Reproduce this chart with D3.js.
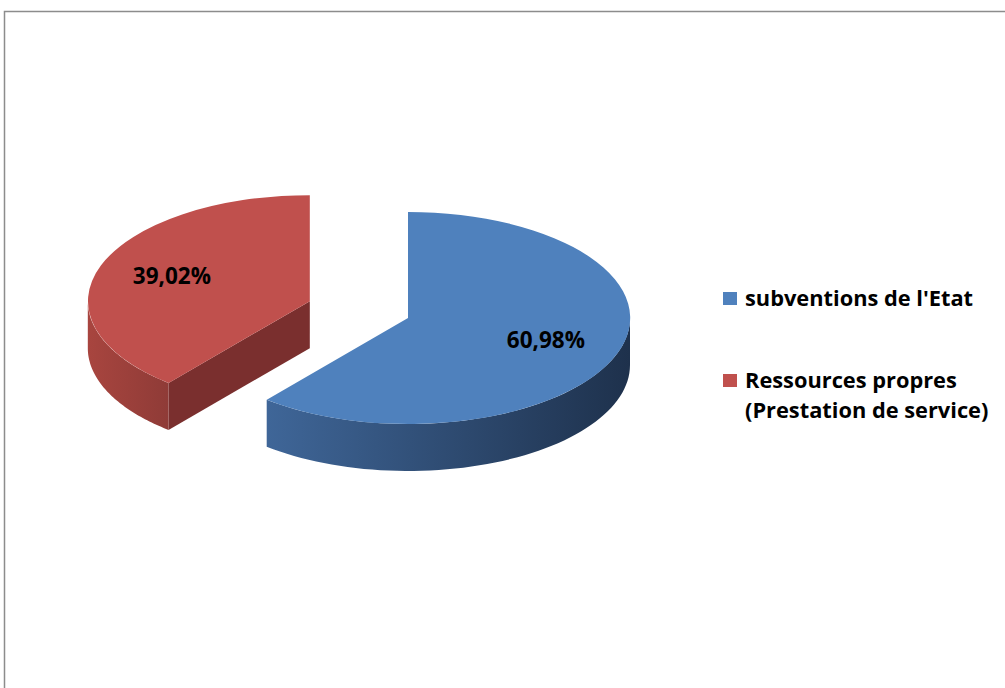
<!DOCTYPE html>
<html>
<head>
<meta charset="utf-8">
<script src="https://d3js.org/d3.v7.min.js"></script>
<style>
  body { margin: 0; background: #fff; }
  text { font-family: "Open Sans", "Noto Sans", sans-serif; font-weight: bold; }
</style>
</head>
<body>
<svg width="1005" height="688"></svg>
<script>
  // chart values
  const LABELS = ["subventions de l'Etat", 'Ressources propres (Prestation de service)'];
  const LEGEND_LINES = [["subventions de l'Etat"], ['Ressources propres', '(Prestation de service)']];
  const VALUES = [60.98, 39.02];
  const PCT_LABELS = ['60,98%', '39,02%'];
  const EXPLODE = [0, 0.47];

  const TOP = ['#4f81bd', '#c0504d'];
  const SIDE_A = ['#3f6698', '#a8453f'];
  const SIDE_B = ['#1e314c', '#8f3b37'];
  const CUT = ['#27406a', '#7a2f2e'];

  const svg = d3.select('svg');
  const cx = 408, cy = 318, rx = 222, ry = 106, depth = 47;

  // frame
  svg.append('rect').attr('x', 4.5).attr('y', 11.5).attr('width', 1020).attr('height', 700)
    .attr('fill', 'none').attr('stroke', '#8c8c8c').attr('stroke-width', 1.5);

  const defs = svg.append('defs');

  const pie = d3.pie().sort(null).value(d => d);
  const arcs = pie(VALUES);

  function pt(a, ox, oy, dz) {
    return [ox + rx * Math.sin(a), oy - ry * Math.cos(a) + (dz || 0)];
  }

  function sidePath(a0, a1, ox, oy) {
    const lo = Math.max(a0, Math.PI / 2), hi = Math.min(a1, 3 * Math.PI / 2);
    if (hi <= lo) return null;
    const n = 60, p = d3.path();
    for (let i = 0; i <= n; i++) {
      const q = pt(lo + (hi - lo) * i / n, ox, oy);
      i === 0 ? p.moveTo(q[0], q[1]) : p.lineTo(q[0], q[1]);
    }
    for (let i = n; i >= 0; i--) {
      const q = pt(lo + (hi - lo) * i / n, ox, oy, depth);
      p.lineTo(q[0], q[1]);
    }
    p.closePath();
    return { d: p.toString(), x0: pt(lo, ox, oy)[0], x1: pt(hi, ox, oy)[0] };
  }

  const unitArc = d3.arc().innerRadius(0).outerRadius(1);

  // back slice first (red), then blue
  [1, 0].forEach(i => {
    const a = arcs[i];
    const mid = (a.startAngle + a.endAngle) / 2;
    const ox = cx + EXPLODE[i] * rx * Math.sin(mid);
    const oy = cy - EXPLODE[i] * ry * Math.cos(mid);
    const g = svg.append('g');

    // cut face at start angle, if it faces the viewer
    const faceNormal = a.startAngle - Math.PI / 2;
    if (-Math.cos(faceNormal) > 0.05) {
      const e = pt(a.startAngle, ox, oy);
      g.append('path')
        .attr('d', `M${ox},${oy}L${e[0]},${e[1]}L${e[0]},${e[1] + depth}L${ox},${oy + depth}Z`)
        .attr('fill', CUT[i]);
    }

    // outer curved side
    const s = sidePath(a.startAngle, a.endAngle, ox, oy);
    if (s) {
      const grad = defs.append('linearGradient').attr('id', 'side' + i)
        .attr('gradientUnits', 'userSpaceOnUse')
        .attr('x1', Math.min(s.x0, s.x1)).attr('x2', Math.max(s.x0, s.x1))
        .attr('y1', 0).attr('y2', 0);
      grad.append('stop').attr('offset', 0).attr('stop-color', SIDE_A[i]);
      grad.append('stop').attr('offset', 1).attr('stop-color', SIDE_B[i]);
      g.append('path').attr('d', s.d).attr('fill', `url(#side${i})`);
    }

    // top face
    g.append('path')
      .attr('d', unitArc(a))
      .attr('transform', `translate(${ox},${oy}) scale(${rx},${ry})`)
      .attr('fill', TOP[i]);

    // percentage label
    const lp = pt(mid, ox, oy);
    const f = 0.66;
    g.append('text')
      .attr('x', ox + (lp[0] - ox) * f)
      .attr('y', oy + (lp[1] - oy) * f)
      .attr('text-anchor', 'middle')
      .attr('dominant-baseline', 'middle')
      .attr('font-size', 22.5)
      .attr('fill', '#000')
      .text(PCT_LABELS[i]);
  });

  // legend
  const lg = svg.append('g').attr('transform', 'translate(723,292)');
  const legendY = [0, 82];
  LEGEND_LINES.forEach((lines, i) => {
    lg.append('rect').attr('x', 0).attr('y', legendY[i]).attr('width', 14).attr('height', 13)
      .attr('fill', TOP[i]);
    lines.forEach((t, j) => {
      lg.append('text').attr('x', 22).attr('y', legendY[i] + 14 + j * 30)
        .attr('font-size', 21.8).attr('fill', '#000').text(t);
    });
  });
</script>
</body>
</html>
